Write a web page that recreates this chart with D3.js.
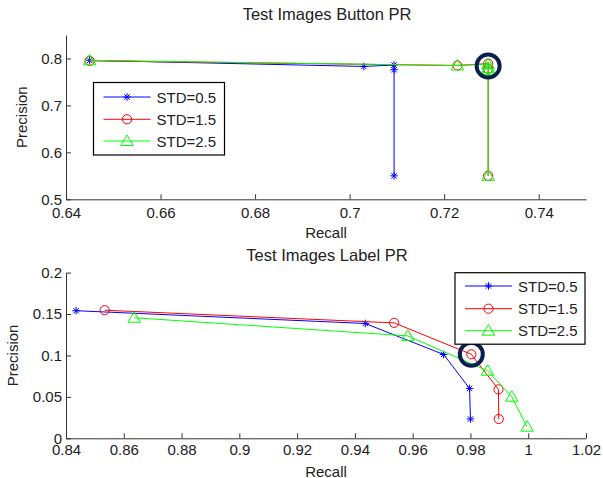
<!DOCTYPE html>
<html lang="en">
<head>
<meta charset="utf-8">
<title>Test Images PR</title>
<script src="https://d3js.org/d3.v7.min.js"></script>
<style>
  body { margin: 0; background: #fff; }
  svg text { font-family: "Liberation Sans", Arial, sans-serif; fill: #222; }
</style>
</head>
<body>
<svg id="chart" width="603" height="478"></svg>
<script>
// series names and colours
const seriesNames = ["STD=0.5", "STD=1.5", "STD=2.5"];
const seriesColors = ["#0000ff", "#ff0000", "#00ff00"];
const seriesMarkers = ["star", "circle", "triangle"];

// button PR (recall, precision)
const buttonStd05 = [[0.645, 0.796], [0.703, 0.783], [0.7094, 0.786], [0.7094, 0.776], [0.7094, 0.550]];
const buttonStd15 = [[0.645, 0.795], [0.7228, 0.785], [0.7293, 0.789], [0.7293, 0.778], [0.7293, 0.550]];
const buttonStd25 = [[0.645, 0.796], [0.7228, 0.785], [0.7293, 0.788], [0.7293, 0.780], [0.7293, 0.776], [0.7293, 0.550]];
const buttonHighlight = [0.7293, 0.784];

// label PR (recall, precision)
const labelStd05 = [[0.8435, 0.154], [0.9436, 0.1386], [0.9707, 0.1012], [0.9797, 0.0602], [0.98, 0.0233]];
const labelStd15 = [[0.8534, 0.1546], [0.9536, 0.1393], [0.9803, 0.1014], [0.9897, 0.059], [0.9898, 0.0233]];
const labelStd25 = [[0.8636, 0.1455], [0.9583, 0.1236], [0.9859, 0.0815], [0.9943, 0.0502], [0.9996, 0.014]];
const labelHighlight = [0.9803, 0.1014];

// axis ticks
const buttonXTicks = [0.64, 0.66, 0.68, 0.7, 0.72, 0.74];
const buttonYTicks = [0.5, 0.6, 0.7, 0.8];
const labelXTicks = [0.84, 0.86, 0.88, 0.9, 0.92, 0.94, 0.96, 0.98, 1, 1.02];
const labelYTicks = [0, 0.05, 0.1, 0.15, 0.2];

const svg = d3.select("#chart");

function marker(g, type, color, x, y) {
  if (type === "circle") {
    g.append("circle").attr("cx", x).attr("cy", y).attr("r", 4.6)
      .attr("fill", "none").attr("stroke", color).attr("stroke-width", 1);
  } else if (type === "triangle") {
    g.append("path")
      .attr("d", `M${x},${y - 6}L${x + 6.3},${y + 4.5}L${x - 6.3},${y + 4.5}Z`)
      .attr("fill", "none").attr("stroke", color).attr("stroke-width", 1);
  } else {
    const r = 3.8, d = r * 0.7071;
    g.append("path")
      .attr("d", `M${x - r},${y}L${x + r},${y}M${x},${y - r}L${x},${y + r}` +
                 `M${x - d},${y - d}L${x + d},${y + d}M${x - d},${y + d}L${x + d},${y - d}`)
      .attr("stroke", color).attr("stroke-width", 1);
  }
}

function drawPanel(opt) {
  const x = d3.scaleLinear().domain(opt.xDomain).range([66, 586]);
  const y = d3.scaleLinear().domain(opt.yDomain).range([opt.bottom, opt.top]);
  const g = svg.append("g");

  const xAxis = g.append("g").attr("transform", `translate(0,${opt.bottom})`)
    .call(d3.axisBottom(x).tickValues(opt.xTicks).tickFormat(d => String(d))
      .tickSizeInner(-5).tickSizeOuter(0).tickPadding(opt.xPad));
  const yAxis = g.append("g").attr("transform", "translate(66,0)")
    .call(d3.axisLeft(y).tickValues(opt.yTicks).tickFormat(d => String(d))
      .tickSizeInner(-5).tickSizeOuter(0).tickPadding(4));
  [xAxis, yAxis].forEach(a => {
    a.selectAll("text").style("font-size", "15px").attr("fill", "#222");
    a.selectAll("line, path").attr("stroke", "#333");
  });

  const line = d3.line().x(d => x(d[0])).y(d => y(d[1]));
  opt.series.forEach((pts, i) => {
    g.append("path").datum(pts).attr("d", line)
      .attr("fill", "none").attr("stroke", seriesColors[i]).attr("stroke-width", 1);
    pts.forEach(p => marker(g, seriesMarkers[i], seriesColors[i], x(p[0]), y(p[1])));
  });

  // highlight ring
  g.append("circle").attr("cx", x(opt.highlight[0])).attr("cy", y(opt.highlight[1]))
    .attr("r", 11.5).attr("fill", "none").attr("stroke", "#0b1f4f").attr("stroke-width", 4);

  // titles
  g.append("text").attr("x", 327).attr("y", opt.titleY).attr("text-anchor", "middle")
    .style("font-size", "16.5px").text(opt.title);
  g.append("text").attr("x", 326).attr("y", opt.xLabelY).attr("text-anchor", "middle")
    .style("font-size", "15px").text("Recall");
  g.append("text")
    .attr("transform", `translate(${opt.yLabelX},${(opt.top + opt.bottom) / 2}) rotate(-90)`)
    .attr("text-anchor", "middle").style("font-size", "15px").text("Precision");

  // legend
  const L = opt.legend;
  const lg = g.append("g");
  lg.append("rect").attr("x", L.x).attr("y", L.y).attr("width", L.w).attr("height", L.h)
    .attr("fill", "#fff").attr("stroke", "#000").attr("stroke-width", 1.2);
  seriesNames.forEach((name, i) => {
    const ry = L.rowY[i];
    lg.append("line").attr("x1", L.x + 10).attr("x2", L.x + 57).attr("y1", ry).attr("y2", ry)
      .attr("stroke", seriesColors[i]).attr("stroke-width", 1);
    marker(lg, seriesMarkers[i], seriesColors[i], L.x + 33.5, ry);
    lg.append("text").attr("x", L.x + 63).attr("y", ry + 5.5)
      .style("font-size", "15px").text(name);
  });
}

drawPanel({
  title: "Test Images Button PR",
  xDomain: [0.64, 0.75], yDomain: [0.5, 0.85],
  top: 35, bottom: 199.3,
  xTicks: buttonXTicks, yTicks: buttonYTicks, xPad: 8,
  series: [buttonStd05, buttonStd15, buttonStd25],
  highlight: buttonHighlight,
  titleY: 20, xLabelY: 238, yLabelX: 26.5,
  legend: { x: 93.5, y: 82.5, w: 131, h: 72.5, rowY: [97, 119.3, 141] }
});

drawPanel({
  title: "Test Images Label PR",
  xDomain: [0.84, 1.02], yDomain: [0, 0.2],
  top: 272.6, bottom: 438.3,
  xTicks: labelXTicks, yTicks: labelYTicks, xPad: 6.5,
  series: [labelStd05, labelStd15, labelStd25],
  highlight: labelHighlight,
  titleY: 260.5, xLabelY: 476.5, yLabelX: 18.3,
  legend: { x: 455, y: 272.7, w: 130, h: 71.5, rowY: [286, 308.7, 330.7] }
});
</script>
</body>
</html>
